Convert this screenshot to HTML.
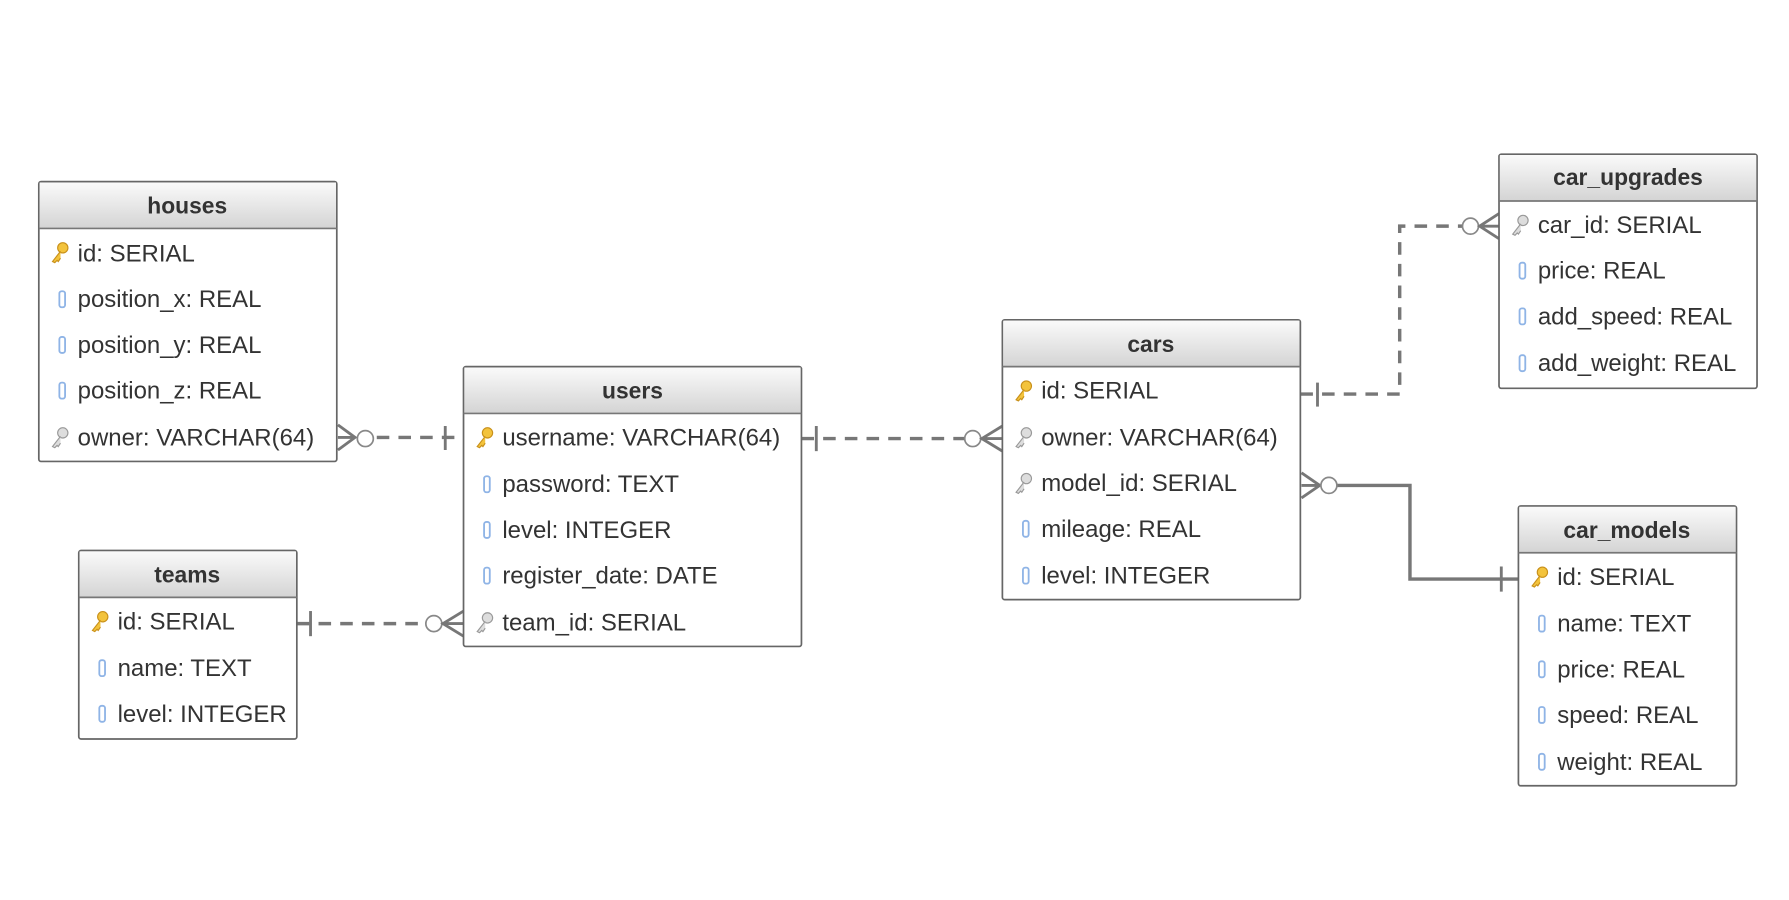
<!DOCTYPE html>
<html><head><meta charset="utf-8"><style>
html,body{margin:0;padding:0;background:#fff;}
svg{display:block;}
text{font-family:"Liberation Sans",sans-serif;}
.t{font-size:21px;fill:#333;}
.h{font-size:20px;font-weight:bold;fill:#333;text-anchor:middle;}
.box{fill:#fff;stroke:#666;stroke-width:1.5;}
.ln{stroke:#777;stroke-width:3;fill:none;}
.d{stroke-dasharray:11 8;}
.c{fill:#fff;stroke:#888;stroke-width:1.5;}
.col{fill:#fff;stroke:#8fb4e6;stroke-width:1.6;}
</style></head><body>
<svg width="1789" height="900" viewBox="0 0 1567 788" preserveAspectRatio="none" xmlns="http://www.w3.org/2000/svg">
<defs>
<linearGradient id="hg" x1="0" y1="0" x2="0" y2="1"><stop offset="0" stop-color="#fafafa"/><stop offset="1" stop-color="#d4d4d4"/></linearGradient>
<g id="pk"><circle cx="5" cy="-4" r="4.5" fill="#f3c33c" stroke="#c8901a" stroke-width="1"/><path d="M3 -1 L-4 8 L-2 9 L0 7 L1 8 L3 5" fill="#f3c33c" stroke="#c8901a" stroke-width="1"/></g>
<g id="fk"><circle cx="5" cy="-4" r="4.5" fill="#ddd" stroke="#999" stroke-width="1"/><path d="M3 -1 L-4 8 L-2 9 L0 7 L1 8 L3 5" fill="#ddd" stroke="#999" stroke-width="1"/></g>
<g id="cl"><rect x="-2" y="-7" width="5" height="14" rx="2" class="col"/></g>
</defs>

<g>
<line class="ln d" x1="330" y1="383" x2="406" y2="383"/>
<path class="ln" d="M296 372 L311 383 L296 394 M296 383 L311 383" style="stroke-width:2.5"/>
<circle class="c" cx="320" cy="384" r="7"/>
<line class="ln" x1="390" y1="373" x2="390" y2="394" style="stroke-width:2.5"/>
<line class="ln d" x1="260" y1="546" x2="372" y2="546"/>
<line class="ln" x1="272" y1="535" x2="272" y2="557" style="stroke-width:2.5"/>
<circle class="c" cx="380" cy="546" r="7"/>
<path class="ln" d="M406 535 L388 546 L406 557 M388 546 L406 546" style="stroke-width:2.5"/>
<line class="ln d" x1="702" y1="384" x2="845" y2="384"/>
<line class="ln" x1="715" y1="373" x2="715" y2="395" style="stroke-width:2.5"/>
<circle class="c" cx="852" cy="384" r="7"/>
<path class="ln" d="M878 373 L860 384 L878 395 M860 384 L878 384" style="stroke-width:2.5"/>
<path class="ln d" d="M1139 345 L1226 345 L1226 198 L1281 198"/>
<line class="ln" x1="1154" y1="335" x2="1154" y2="356" style="stroke-width:2.5"/>
<circle class="c" cx="1288" cy="198" r="7"/>
<path class="ln" d="M1313 187 L1296 198 L1313 209 M1296 198 L1313 198" style="stroke-width:2.5"/>
<path class="ln" d="M1171 425 L1235 425 L1235 507 L1330 507"/>
<path class="ln" d="M1140 414 L1156 425 L1140 436 M1140 425 L1156 425" style="stroke-width:2.5"/>
<circle class="c" cx="1164" cy="425" r="7"/>
<line class="ln" x1="1315" y1="496" x2="1315" y2="518" style="stroke-width:2.5"/>
</g>

<g transform="translate(34,159)">
<rect class="box" x="0" y="0" width="261" height="245" rx="2"/>
<rect x="0.75" y="0.75" width="259.5" height="40" fill="url(#hg)"/>
<line x1="0" y1="41" x2="261" y2="41" stroke="#777" stroke-width="1.5"/>
<text class="h" x="130" y="28">houses</text>
<use href="#pk" x="16" y="62"/><text class="t" x="34" y="70">id: SERIAL</text>
<use href="#cl" x="20" y="103"/><text class="t" x="34" y="110">position_x: REAL</text>
<use href="#cl" x="20" y="143"/><text class="t" x="34" y="150">position_y: REAL</text>
<use href="#cl" x="20" y="183"/><text class="t" x="34" y="190">position_z: REAL</text>
<use href="#fk" x="16" y="224"/><text class="t" x="34" y="231">owner: VARCHAR(64)</text>
</g>

<g transform="translate(406,321)">
<rect class="box" x="0" y="0" width="296" height="245" rx="2"/>
<rect x="0.75" y="0.75" width="294.5" height="40" fill="url(#hg)"/>
<line x1="0" y1="41" x2="296" y2="41" stroke="#777" stroke-width="1.5"/>
<text class="h" x="148" y="28">users</text>
<use href="#pk" x="16" y="62"/><text class="t" x="34" y="69">username: VARCHAR(64)</text>
<use href="#cl" x="20" y="103"/><text class="t" x="34" y="110">password: TEXT</text>
<use href="#cl" x="20" y="143"/><text class="t" x="34" y="150">level: INTEGER</text>
<use href="#cl" x="20" y="183"/><text class="t" x="34" y="190">register_date: DATE</text>
<use href="#fk" x="16" y="224"/><text class="t" x="34" y="231">team_id: SERIAL</text>
</g>

<g transform="translate(69,482)">
<rect class="box" x="0" y="0" width="191" height="165" rx="2"/>
<rect x="0.75" y="0.75" width="189.5" height="40" fill="url(#hg)"/>
<line x1="0" y1="41" x2="191" y2="41" stroke="#777" stroke-width="1.5"/>
<text class="h" x="95" y="28">teams</text>
<use href="#pk" x="16" y="62"/><text class="t" x="34" y="69">id: SERIAL</text>
<use href="#cl" x="20" y="103"/><text class="t" x="34" y="110">name: TEXT</text>
<use href="#cl" x="20" y="143"/><text class="t" x="34" y="150">level: INTEGER</text>
</g>

<g transform="translate(878,280)">
<rect class="box" x="0" y="0" width="261" height="245" rx="2"/>
<rect x="0.75" y="0.75" width="259.5" height="40" fill="url(#hg)"/>
<line x1="0" y1="41" x2="261" y2="41" stroke="#777" stroke-width="1.5"/>
<text class="h" x="130" y="28">cars</text>
<use href="#pk" x="16" y="62"/><text class="t" x="34" y="69">id: SERIAL</text>
<use href="#fk" x="16" y="103"/><text class="t" x="34" y="110">owner: VARCHAR(64)</text>
<use href="#fk" x="16" y="143"/><text class="t" x="34" y="150">model_id: SERIAL</text>
<use href="#cl" x="20" y="183"/><text class="t" x="34" y="190">mileage: REAL</text>
<use href="#cl" x="20" y="224"/><text class="t" x="34" y="231">level: INTEGER</text>
</g>

<g transform="translate(1313,135)">
<rect class="box" x="0" y="0" width="226" height="205" rx="2"/>
<rect x="0.75" y="0.75" width="224.5" height="40" fill="url(#hg)"/>
<line x1="0" y1="41" x2="226" y2="41" stroke="#777" stroke-width="1.5"/>
<text class="h" x="113" y="27">car_upgrades</text>
<use href="#fk" x="16" y="62"/><text class="t" x="34" y="69">car_id: SERIAL</text>
<use href="#cl" x="20" y="102"/><text class="t" x="34" y="109">price: REAL</text>
<use href="#cl" x="20" y="142"/><text class="t" x="34" y="149">add_speed: REAL</text>
<use href="#cl" x="20" y="183"/><text class="t" x="34" y="190">add_weight: REAL</text>
</g>

<g transform="translate(1330,443)">
<rect class="box" x="0" y="0" width="191" height="245" rx="2"/>
<rect x="0.75" y="0.75" width="189.5" height="40" fill="url(#hg)"/>
<line x1="0" y1="41" x2="191" y2="41" stroke="#777" stroke-width="1.5"/>
<text class="h" x="95" y="28">car_models</text>
<use href="#pk" x="16" y="62"/><text class="t" x="34" y="69">id: SERIAL</text>
<use href="#cl" x="20" y="103"/><text class="t" x="34" y="110">name: TEXT</text>
<use href="#cl" x="20" y="143"/><text class="t" x="34" y="150">price: REAL</text>
<use href="#cl" x="20" y="183"/><text class="t" x="34" y="190">speed: REAL</text>
<use href="#cl" x="20" y="224"/><text class="t" x="34" y="231">weight: REAL</text>
</g>
</svg>
</body></html>
